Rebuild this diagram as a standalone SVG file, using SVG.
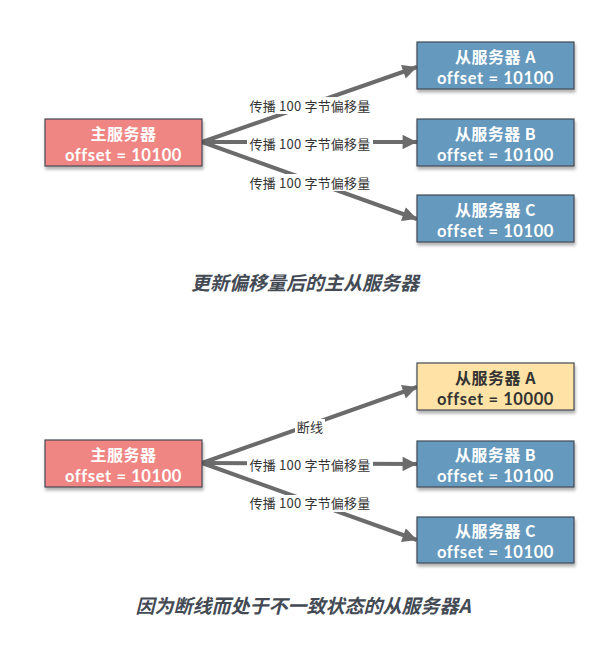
<svg xmlns="http://www.w3.org/2000/svg" width="616" height="669" viewBox="0 0 616 669">
<style>
.box{stroke:#434a54;stroke-width:1.2;filter:url(#sh)}
.m{fill:#f08683}
.b{fill:#6599bd}
.y{fill:#ffe3a6}
.bt{font-family:"Noto Sans CJK SC","Noto Sans",sans-serif;font-weight:bold;font-size:16px;letter-spacing:0.5px;fill:#fff;text-anchor:middle}
.of{font-family:Lato,"Noto Sans",sans-serif;font-weight:bold;font-size:16.5px;letter-spacing:0.6px;fill:#fff;text-anchor:middle}
.dk{fill:#333}
.ln{stroke:#6b6b6b;stroke-width:4;fill:none;marker-end:url(#ah)}
.lb{font-family:"Noto Sans CJK SC","Noto Sans",sans-serif;font-size:13px;letter-spacing:0.2px;fill:#333;text-anchor:middle}
.bg{fill:#fff}
.cap{font-family:"Noto Sans CJK SC","Noto Sans",sans-serif;font-weight:bold;font-style:italic;font-size:19px;fill:#434a54;text-anchor:middle}
</style>
<defs>
<filter id="sh" x="-10%" y="-20%" width="120%" height="160%">
<feDropShadow dx="1" dy="3" stdDeviation="1.5" flood-color="#000" flood-opacity="0.3"/>
</filter>
<marker id="ah" viewBox="0 0 10 10" refX="10" refY="5" markerWidth="4" markerHeight="3.6" orient="auto" markerUnits="strokeWidth">
<path d="M0,0 L10,5 L0,10 z" fill="#6b6b6b"/>
</marker>
</defs>

<g id="connectors">
<path class="ln" d="M202,142 L417,67"/>
<path class="ln" d="M202,142 L417,142"/>
<path class="ln" d="M202,142 L417,219"/>
<path class="ln" d="M202,463 L417,387"/>
<path class="ln" d="M202,463 L417,464"/>
<path class="ln" d="M202,463 L417,540"/>
<g id="labels">
<rect class="bg" x="247" y="97" width="126" height="17"/>
<text class="lb" x="310" y="110.5">传播 100 字节偏移量</text>
<rect class="bg" x="247" y="136" width="126" height="17"/>
<text class="lb" x="310" y="149">传播 100 字节偏移量</text>
<rect class="bg" x="247" y="174" width="126" height="17"/>
<text class="lb" x="310" y="187.5">传播 100 字节偏移量</text>
<rect class="bg" x="295" y="419" width="30" height="16"/>
<text class="lb" x="310" y="431.5">断线</text>
<rect class="bg" x="247" y="457" width="126" height="17"/>
<text class="lb" x="310" y="470">传播 100 字节偏移量</text>
<rect class="bg" x="247" y="495" width="126" height="17"/>
<text class="lb" x="310" y="508">传播 100 字节偏移量</text>
</g>
</g>

<g id="master1">
<rect class="box m" x="45" y="119" width="157" height="47"/>
<text class="bt" x="123.5" y="139.5">主服务器</text>
<text class="of" x="123.5" y="160.5">offset = 10100</text>
</g>
<g id="slaveA1">
<rect class="box b" x="417" y="42" width="157" height="47"/>
<text class="bt" x="495.5" y="62.5">从服务器 A</text>
<text class="of" x="495.5" y="83.5">offset = 10100</text>
</g>
<g id="slaveB1">
<rect class="box b" x="417" y="119" width="157" height="47"/>
<text class="bt" x="495.5" y="139.5">从服务器 B</text>
<text class="of" x="495.5" y="160.5">offset = 10100</text>
</g>
<g id="slaveC1">
<rect class="box b" x="417" y="195" width="157" height="47"/>
<text class="bt" x="495.5" y="215.5">从服务器 C</text>
<text class="of" x="495.5" y="236.5">offset = 10100</text>
</g>
<g id="caption1">
<text class="cap" x="305" y="290">更新偏移量后的主从服务器</text>
</g>

<g id="master2">
<rect class="box m" x="45" y="440" width="157" height="47"/>
<text class="bt" x="123.5" y="460.5">主服务器</text>
<text class="of" x="123.5" y="481.5">offset = 10100</text>
</g>
<g id="slaveA2">
<rect class="box y" x="417" y="363" width="157" height="47"/>
<text class="bt dk" x="495.5" y="383.5">从服务器 A</text>
<text class="of dk" x="495.5" y="404.5">offset = 10000</text>
</g>
<g id="slaveB2">
<rect class="box b" x="417" y="441" width="157" height="46"/>
<text class="bt" x="495.5" y="460.5">从服务器 B</text>
<text class="of" x="495.5" y="481.5">offset = 10100</text>
</g>
<g id="slaveC2">
<rect class="box b" x="417" y="517" width="157" height="46"/>
<text class="bt" x="495.5" y="536.5">从服务器 C</text>
<text class="of" x="495.5" y="557.5">offset = 10100</text>
</g>
<g id="caption2">
<text class="cap" x="303" y="613">因为断线而处于不一致状态的从服务器A</text>
</g>
</svg>
